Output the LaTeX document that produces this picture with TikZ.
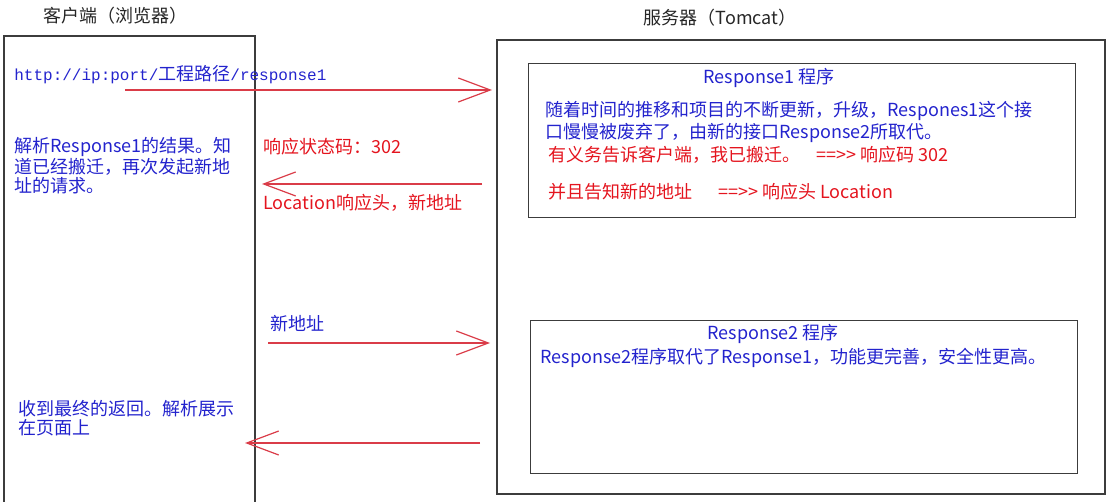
\documentclass[tikz,border=0pt]{standalone}
\usepackage{fontspec}
\setmainfont{Noto Sans CJK SC}
\setmonofont{Liberation Mono}
\usetikzlibrary{arrows.meta}
\definecolor{inkblue}{RGB}{35,35,205}
\definecolor{inkred}{RGB}{228,20,30}
\definecolor{wirered}{RGB}{218,60,72}
\definecolor{framegray}{RGB}{60,60,60}
\newcommand{\farrow}{==>\kern0pt>}
\tikzset{
  basetext/.style={inner sep=0pt,align=left,font=\fontsize{9}{9.3}\selectfont},
  bluetext/.style={basetext,text=inkblue},
  redtext/.style={basetext,text=inkred},
  frame/.style={draw=framegray,line width=0.7pt},
  flow/.style={draw=wirered,line width=0.6pt,-{Straight Barb[length=16pt,width=12pt]}},
}
\begin{document}
\begin{tikzpicture}[x=0.5pt,y=-0.5pt]
\useasboundingbox (0,0) rectangle (1114,502);
% column titles
\node[basetext,text=black!85] (clienttitle) at (115,16) {客户端（浏览器）};
\node[basetext,text=black!85] (servertitle) at (720,18) {服务器（Tomcat）};
% client column, open at the bottom
\draw[frame] (4,502) -- (4,36) -- (255,36) -- (255,502);
% server and its two programs
\draw[frame] (497,40) rectangle (1105,494);
\node[frame,anchor=north west,minimum width=273.5pt,minimum height=77pt,inner sep=0pt] (resp1) at (528,63) {};
\node[frame,anchor=north west,minimum width=273.5pt,minimum height=76.5pt,inner sep=0pt] (resp2) at (530,320) {};
% client side texts
\node[bluetext,anchor=west] (url) at (14,75) {{\ttfamily\fontsize{8}{9}\selectfont http://ip:port/}工程路径{\ttfamily\fontsize{8}{9}\selectfont /response1}};
\node[bluetext,anchor=north west] (parse1) at (14,137) {解析Response1的结果。知\\道已经搬迁，再次发起新地\\址的请求。};
\node[bluetext,anchor=north west] (parse2) at (18,400) {收到最终的返回。解析展示\\在页面上};
% labels between the columns
\node[redtext,anchor=west] (status) at (263,147) {响应状态码：302};
\node[redtext,anchor=west] (location) at (263,203) {Location响应头，新地址};
\node[bluetext,anchor=west] (newaddr) at (270,324) {新地址};
% Response1 program
\node[bluetext] (resp1title) at (769,78) {Response1 程序};
\node[bluetext,anchor=north west] (resp1why) at (545,101) {随着时间的推移和项目的不断更新，升级，Respones1这个接\\口慢慢被废弃了，由新的接口Response2所取代。};
\node[redtext,anchor=west] (resp1code) at (548,155) {有义务告诉客户端，我已搬迁。\hspace{8pt}\farrow{} 响应码 302};
\node[redtext,anchor=west] (resp1head) at (548,192) {并且告知新的地址\hspace{13pt}\farrow{} 响应头 Location};
% Response2 program
\node[bluetext] (resp2title) at (773,334) {Response2 程序};
\node[bluetext,anchor=west] (resp2what) at (540,358) {Response2程序取代了Response1，功能更完善，安全性更高。};
% request and response arrows
\coordinate (req1start) at (125,90);
\coordinate (req1end) at (492,90);
\coordinate (res1start) at (482,184);
\coordinate (res1end) at (262,184);
\coordinate (req2start) at (268,343);
\coordinate (req2end) at (490,343);
\coordinate (res2start) at (480,443);
\coordinate (res2end) at (245,443);
\draw[flow] (req1start) -- (req1end);
\draw[flow] (res1start) -- (res1end);
\draw[flow] (req2start) -- (req2end);
\draw[flow] (res2start) -- (res2end);
\end{tikzpicture}
\end{document}
